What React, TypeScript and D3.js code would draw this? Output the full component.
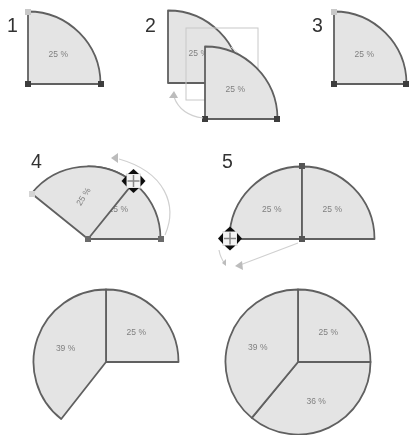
import React from 'react';
import * as d3 from 'd3';

const width = 409;
const height = 435;

// slice shares in percent
const quarterValues = [25];
const halfValues = [25, 25];
const leftValues = [39.4];
const fullValues = [25, 36, 39];
const panelNumbers = ['1', '2', '3', '4', '5'];

const fill = '#e4e4e4';
const stroke = '#606060';
const radius = 72.5;

const arc = d3.arc<any>().innerRadius(0).outerRadius(radius);

// percent of a full turn -> radians, clockwise from north like d3.arc
const angle = d3.scaleLinear().domain([0, 100]).range([0, 2 * Math.PI]);

const layout = (values: number[], start: number) => {
  return d3.pie<number>()
    .sort(null)
    .startAngle(angle(start))
    .endAngle(angle(start + d3.sum(values)))(values);
};

const Slices = ({ cx, cy, values, start = 0, rotate = 0 }: any) => {
  const slices = layout(values, start);
  return (
    <g transform={`translate(${cx},${cy})`}>
      {slices.map((s, i) => {
        const mid = (s.startAngle + s.endAngle) / 2;
        const r = radius * 0.59;
        return (
          <g key={i}>
            <path d={arc(s) as string} fill={fill} stroke={stroke} strokeWidth={1.8} strokeLinejoin="round" />
            <text
              transform={`translate(${Math.sin(mid) * r},${-Math.cos(mid) * r}) rotate(${rotate})`}
              textAnchor="middle"
              dy="0.35em"
              fontSize={8.5}
              fontFamily="Liberation Sans"
              fill="#808080"
            >
              {values[i].toFixed(0)} %
            </text>
          </g>
        );
      })}
    </g>
  );
};

const Handle = ({ x, y, color }: any) => (
  <rect x={x - 3} y={y - 3} width={6} height={6} fill={color} stroke="none" />
);

// four way move cursor
const MoveCursor = ({ x, y }: any) => (
  <g transform={`translate(${x},${y})`} fill="#111">
    <rect x={-7} y={-7} width={14} height={14} fill="#f4f4f4" stroke="#ddd" />
    {[0, 90, 180, 270].map(a => (
      <path key={a} transform={`rotate(${a})`} d={d3.line()([[0, -12], [5.5, -7], [-5.5, -7]]) + 'Z'} />
    ))}
    <path d="M0,-6V6M-6,0H6" stroke="#888" strokeWidth={1.5} />
  </g>
);

const Arrow = ({ d, head }: any) => (
  <g>
    <path d={d} fill="none" stroke="#d0d0d0" strokeWidth={1.2} />
    <path d={head} fill="#bcbcbc" />
  </g>
);

export default function App() {
  const numberPos: [number, number][] = [[7, 32], [145, 32], [312, 32], [31, 168], [222, 168]];
  return (
    <svg
      width={width}
      height={height}
      style={{ position: 'absolute', left: 0, top: 0, background: '#fff' }}
      fontFamily="Liberation Sans"
    >
      <defs>
        <filter id="soft" x="-5%" y="-5%" width="110%" height="110%">
          <feGaussianBlur stdDeviation="0.6" />
        </filter>
      </defs>
      <g filter="url(#soft)">
        {panelNumbers.map((n, i) => (
          <text key={n} x={numberPos[i][0]} y={numberPos[i][1]} fontSize={19.5} fill="#333">{n}</text>
        ))}

        {/* step 1 */}
        <Slices cx={28} cy={84} values={quarterValues} />
        <Handle x={28} y={12} color="#c8c8c8" />
        <Handle x={28} y={84} color="#3c3c3c" />
        <Handle x={101} y={84} color="#3c3c3c" />

        {/* step 2 */}
        <Slices cx={168} cy={83} values={quarterValues} />
        <rect x={186} y={28} width={72} height={72} fill="none" stroke="#c8c8c8" strokeWidth={1} />
        <path d="M231,47L246,60" stroke="#d4d4d4" strokeWidth={1} />
        <Slices cx={205} cy={119} values={quarterValues} />
        <Handle x={205} y={119} color="#3c3c3c" />
        <Handle x={277} y={119} color="#3c3c3c" />
        <Arrow d="M203,118C188,116 178,108 174,97" head="M174,91L169,98L178,98Z" />

        {/* step 3 */}
        <Slices cx={334} cy={84} values={quarterValues} />
        <Handle x={334} y={12} color="#c8c8c8" />
        <Handle x={334} y={84} color="#3c3c3c" />
        <Handle x={406} y={84} color="#3c3c3c" />

        {/* step 4 */}
        <Slices cx={88} cy={239} values={quarterValues} />
        <Slices cx={88} cy={239} values={quarterValues} start={-14.2} rotate={-58} />
        <Handle x={88} y={239} color="#6a6a6a" />
        <Handle x={161} y={239} color="#6a6a6a" />
        <Handle x={32} y={194} color="#d4d4d4" />
        <Arrow d="M165,235C178,205 165,172 119,159" head="M111,158L118,153L118,163Z" />
        <MoveCursor x={133.5} y={181} />

        {/* step 5 */}
        <Slices cx={302} cy={239} values={halfValues} start={-25} />
        <Handle x={302} y={166} color="#555" />
        <Handle x={302} y={239} color="#555" />
        <Arrow d="M298,243L240,265" head="M235,266L242,261L243,270Z" />
        <Arrow d="M219,250C220,256 222,260 225,264" head="M226,266L222,263L226,259Z" />
        <MoveCursor x={230} y={238.5} />

        {/* results */}
        <Slices cx={106} cy={362} values={quarterValues} />
        <Slices cx={106} cy={362} values={leftValues} start={-39.4} />
        <Slices cx={298} cy={362} values={fullValues} />
      </g>
    </svg>
  );
}
